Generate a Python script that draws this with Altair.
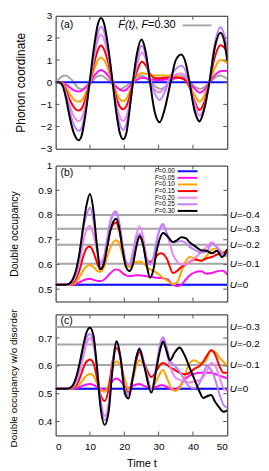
import altair as alt
import pandas as pd

FONT = "Liberation Sans"
W = 173
H_A, H_B, H_C = 134, 137, 122
X_DOMAIN = [0, 50]
YA_DOMAIN = [-3, 3]
YB_DOMAIN = [0.45, 1.0]
YC_DOMAIN = [0.35, 0.785]

X_TICKS = [0, 10, 20, 30, 40, 50]
YA_TICKS = [-3, -2, -1, 0, 1, 2, 3]
YB_TICKS = [0.5, 0.6, 0.7, 0.8, 0.9, 1.0]
YC_TICKS = [0.4, 0.5, 0.6, 0.7]

F_VALUES = ["0.00", "0.05", "0.10", "0.15", "0.20", "0.25", "0.30"]
F_COLORS = ["#1010ff", "#ff10f0", "#ffa500", "#ff0000", "#ee88ee", "#bf80ff", "#000000"]
GRAY = "#a6a6a6"

# ---------------- panel (a): phonon coordinate ----------------
t_gray_a = [0, 1, 2, 2.9, 4, 5.3, 6.5, 7.7, 9, 10.5, 12, 13.3, 14.5, 16, 17.5, 19, 20.3, 22, 23.5, 25,
            26.3, 27.8, 29.3, 30.8, 32, 33.5, 35, 36.5, 37.8, 39.3, 40.8, 42.2, 43.5, 45, 46.5, 48, 49.3, 50]
y_gray_a = [0, 0.15, 0.27, 0.3, 0.2, 0, -0.25, -0.3, -0.2, 0, 0.25, 0.3, 0.2, 0, -0.22, -0.3, -0.2, 0, 0.22, 0.3,
            0.2, 0, -0.22, -0.3, -0.2, 0, 0.22, 0.3, 0.2, 0, -0.22, -0.3, -0.2, 0, 0.22, 0.3, 0.22, 0.15]

t_a = [0, 1, 2, 3, 4, 5, 6, 6.8, 7.6, 8.6, 10, 11.3, 12.3, 13.2, 14.2, 15.3, 16.6, 17.8, 18.8, 19.7, 20.6, 21.6,
       22.6, 23.8, 25.1, 26.3, 27.6, 29, 30.3, 31.8, 33.3, 35, 36.6, 38, 39.2, 40.6, 41.9, 43.3, 44.8, 46.4, 48, 49.2, 50]
y_a_000 = [0] * len(t_a)
y_a_005 = [0, 0, -0.03, -0.1, -0.22, -0.33, -0.4, -0.42, -0.38, -0.25, 0, 0.3, 0.48, 0.55, 0.48, 0.3, 0, -0.22, -0.34,
           -0.38, -0.33, -0.18, 0, 0.12, 0.2, 0.18, 0.12, 0.1, 0.1, 0.12, 0.15, 0.18, 0.2, 0.1, -0.1, -0.3, -0.47,
           -0.35, 0, 0.32, 0.5, 0.52, 0.5]
y_a_010 = [0, 0, -0.05, -0.22, -0.5, -0.72, -0.85, -0.88, -0.82, -0.55, 0, 0.6, 0.98, 1.12, 0.98, 0.6, 0, -0.5, -0.78,
           -0.85, -0.75, -0.4, 0, 0.3, 0.42, 0.38, 0.33, 0.3, 0.3, 0.3, 0.3, 0.28, 0.2, 0.05, -0.2, -0.6, -0.88, -0.6,
           0, 0.65, 1.0, 0.95, 0.85]
y_a_015 = [0, 0, -0.08, -0.35, -0.75, -1.05, -1.24, -1.28, -1.18, -0.8, 0, 0.9, 1.45, 1.66, 1.45, 0.9, 0, -0.75, -1.12,
           -1.22, -1.08, -0.62, 0, 0.55, 0.92, 0.75, 0.35, 0.18, 0.18, 0.2, 0.22, 0.22, 0.18, 0.05, -0.3, -0.9, -1.25,
           -0.9, 0, 1.15, 1.67, 1.55, 1.28]
y_a_020 = [0, 0, -0.1, -0.47, -1.0, -1.45, -1.7, -1.76, -1.62, -1.1, 0, 1.2, 1.9, 2.15, 1.9, 1.2, 0, -1.05, -1.6,
           -1.75, -1.55, -0.9, 0, 0.85, 1.35, 1.0, 0.1, -0.35, -0.45, -0.25, 0.15, 0.35, 0.4, 0.25, -0.2, -1.0, -1.5,
           -1.1, 0, 1.55, 2.25, 1.9, 1.3]
y_a_025 = [0, 0, -0.12, -0.58, -1.25, -1.8, -2.12, -2.2, -2.05, -1.4, 0, 1.4, 2.2, 2.5, 2.25, 1.4, 0, -1.3, -1.95,
           -2.15, -1.9, -1.1, 0, 1.1, 1.65, 1.2, 0.1, -0.55, -0.8, -0.45, 0.2, 0.6, 0.75, 0.45, -0.3, -1.3, -1.74,
           -1.2, 0, 1.75, 2.48, 2.1, 1.45]
t_a_030 = [0, 1, 2, 3, 4, 5, 6, 6.7, 7.5, 8.5, 9.9, 11.2, 12.2, 13.2, 14.2, 15.3, 16.6, 17.8, 18.8, 19.7, 20.6, 21.5,
           22.5, 23.7, 25, 26.2, 27.5, 28.8, 30.3, 31.8, 33.5, 35, 36.6, 38, 39, 40.5, 41.9, 43.3, 44.8, 46.4, 48, 49.2, 50]
y_a_030 = [0, 0, -0.15, -0.7, -1.5, -2.15, -2.53, -2.62, -2.45, -1.65, 0, 1.6, 2.55, 2.9, 2.6, 1.6, 0, -1.5, -2.35,
           -2.57, -2.3, -1.3, 0, 1.3, 1.93, 1.4, 0, -1.3, -1.81, -1.2, 0, 1.0, 1.25, 0.8, 0, -1.3, -1.77, -1.2, 0, 1.6,
           2.23, 1.8, 0.95]

# ---------------- panel (b): double occupancy ----------------
t_b = [0, 3, 4, 5, 6, 7, 8, 9, 10, 11, 12, 13, 14, 15, 16, 17.6, 18.5, 19.5, 20.5, 21.5, 22.5, 23.5, 24.5, 25.5,
       26.5, 27.5, 28.5, 29.5, 30.5, 31.3, 32.5, 34.2, 35.5, 36.6, 38, 39, 40.5, 42.4, 44, 45.5, 47, 48.5, 49.3, 50]
y_b_000 = [0.518] * len(t_b)
y_b_005 = [0.518, 0.518, 0.518, 0.519, 0.522, 0.528, 0.535, 0.54, 0.542, 0.538, 0.534, 0.533, 0.537, 0.55, 0.565,
           0.58, 0.577, 0.565, 0.556, 0.553, 0.554, 0.556, 0.556, 0.554, 0.552, 0.55, 0.548, 0.546, 0.545, 0.544,
           0.54, 0.518, 0.512, 0.518, 0.54, 0.555, 0.568, 0.572, 0.562, 0.565, 0.572, 0.575, 0.57, 0.558]
y_b_010 = [0.518, 0.518, 0.518, 0.52, 0.53, 0.55, 0.575, 0.592, 0.598, 0.59, 0.575, 0.57, 0.585, 0.63, 0.67, 0.698,
           0.685, 0.64, 0.6, 0.59, 0.6, 0.61, 0.612, 0.605, 0.59, 0.58, 0.575, 0.565, 0.555, 0.545, 0.535, 0.52, 0.53,
           0.57, 0.615, 0.63, 0.625, 0.615, 0.635, 0.66, 0.665, 0.65, 0.64, 0.63]
y_b_015 = [0.518, 0.518, 0.519, 0.525, 0.545, 0.58, 0.63, 0.665, 0.673, 0.65, 0.61, 0.58, 0.6, 0.67, 0.74, 0.77,
           0.74, 0.67, 0.61, 0.6, 0.64, 0.69, 0.71, 0.68, 0.62, 0.61, 0.62, 0.635, 0.645, 0.643, 0.62, 0.565, 0.575,
           0.59, 0.6, 0.61, 0.62, 0.615, 0.625, 0.63, 0.64, 0.645, 0.65, 0.66]
y_b_020 = [0.518, 0.518, 0.52, 0.53, 0.56, 0.61, 0.69, 0.74, 0.756, 0.72, 0.66, 0.61, 0.63, 0.7, 0.77, 0.81, 0.77,
           0.68, 0.61, 0.6, 0.65, 0.72, 0.755, 0.71, 0.63, 0.6, 0.62, 0.7, 0.745, 0.755, 0.72, 0.64, 0.61, 0.6, 0.6,
           0.61, 0.625, 0.65, 0.67, 0.69, 0.67, 0.645, 0.64, 0.645]
y_b_025 = [0.518, 0.518, 0.52, 0.535, 0.57, 0.64, 0.74, 0.8, 0.83, 0.78, 0.68, 0.6, 0.62, 0.7, 0.78, 0.815, 0.77,
           0.68, 0.61, 0.6, 0.64, 0.7, 0.725, 0.69, 0.62, 0.6, 0.63, 0.7, 0.75, 0.764, 0.72, 0.69, 0.692, 0.695,
           0.685, 0.672, 0.66, 0.648, 0.652, 0.685, 0.67, 0.64, 0.635, 0.645]
y_b_030 = [0.518, 0.518, 0.522, 0.54, 0.58, 0.65, 0.75, 0.84, 0.885, 0.82, 0.68, 0.58, 0.6, 0.67, 0.74, 0.785, 0.75,
           0.66, 0.59, 0.573, 0.6, 0.67, 0.715, 0.68, 0.6, 0.546, 0.58, 0.66, 0.71, 0.727, 0.715, 0.69, 0.70, 0.71,
           0.705, 0.69, 0.675, 0.657, 0.655, 0.645, 0.655, 0.63, 0.64, 0.662]

# ---------------- panel (c): double occupancy w/o disorder ----------------
t_c = [0, 3, 4, 5, 6, 7, 8, 9, 10, 11, 12, 13, 14.3, 15.5, 16.5, 17.8, 19, 20.2, 21.2, 22.5, 23.5, 24.4, 25.8,
       27.9, 29.5, 30.5, 31.3, 32.3, 33.3, 34.8, 36.1, 37.5, 39, 40.5, 42, 43, 44, 45.3, 46.5, 47.7, 48.9, 50]
y_c_000 = [0.518] * len(t_c)
y_c_005 = [0.518, 0.518, 0.518, 0.518, 0.52, 0.524, 0.529, 0.533, 0.535, 0.532, 0.525, 0.518, 0.515, 0.525, 0.545,
           0.555, 0.545, 0.525, 0.52, 0.528, 0.533, 0.535, 0.528, 0.52, 0.525, 0.53, 0.53, 0.525, 0.518, 0.515, 0.525,
           0.55, 0.565, 0.572, 0.575, 0.575, 0.575, 0.575, 0.57, 0.565, 0.56, 0.555]
y_c_010 = [0.518, 0.518, 0.518, 0.519, 0.525, 0.535, 0.55, 0.565, 0.572, 0.565, 0.54, 0.515, 0.507, 0.535, 0.585,
           0.616, 0.6, 0.55, 0.516, 0.55, 0.6, 0.62, 0.6, 0.52, 0.55, 0.575, 0.585, 0.56, 0.53, 0.51, 0.52, 0.56, 0.61,
           0.62, 0.61, 0.61, 0.625, 0.655, 0.65, 0.63, 0.615, 0.6]
y_c_015 = [0.518, 0.518, 0.518, 0.52, 0.53, 0.555, 0.59, 0.615, 0.623, 0.61, 0.56, 0.5, 0.474, 0.52, 0.61, 0.664,
           0.62, 0.52, 0.505, 0.56, 0.62, 0.65, 0.61, 0.56, 0.585, 0.605, 0.61, 0.605, 0.595, 0.585, 0.575, 0.57,
           0.575, 0.59, 0.6, 0.615, 0.635, 0.656, 0.64, 0.6, 0.575, 0.575]
y_c_020 = [0.518, 0.518, 0.519, 0.523, 0.54, 0.58, 0.63, 0.68, 0.70, 0.675, 0.6, 0.49, 0.42, 0.47, 0.59, 0.688, 0.62,
           0.515, 0.5, 0.56, 0.63, 0.66, 0.61, 0.515, 0.61, 0.68, 0.70, 0.65, 0.6, 0.56, 0.55, 0.545, 0.54, 0.545,
           0.55, 0.56, 0.58, 0.61, 0.6, 0.56, 0.52, 0.51]
y_c_025 = [0.518, 0.518, 0.519, 0.525, 0.55, 0.6, 0.65, 0.7, 0.715, 0.69, 0.6, 0.48, 0.405, 0.46, 0.59, 0.69, 0.62,
           0.51, 0.495, 0.56, 0.63, 0.664, 0.61, 0.516, 0.61, 0.68, 0.703, 0.67, 0.62, 0.6, 0.58, 0.55, 0.525, 0.52,
           0.54, 0.57, 0.6, 0.585, 0.55, 0.5, 0.46, 0.45]
y_c_030 = [0.518, 0.518, 0.52, 0.53, 0.56, 0.61, 0.67, 0.72, 0.737, 0.71, 0.6, 0.46, 0.388, 0.44, 0.58, 0.688, 0.62,
           0.5, 0.483, 0.56, 0.63, 0.661, 0.6, 0.504, 0.6, 0.66, 0.688, 0.655, 0.62, 0.65, 0.666, 0.64, 0.595, 0.55,
           0.505, 0.485, 0.49, 0.495, 0.47, 0.45, 0.435, 0.44]

# horizontal reference levels (equilibrium double occupancy for given U)
U_NAMES_B = ["-0.4", "-0.3", "-0.2", "-0.1", "0"]
U_LEVELS_B = [0.80, 0.744, 0.68, 0.603, 0.518]
U_NAMES_C = ["-0.3", "-0.2", "-0.1", "0"]
U_LEVELS_C = [0.740, 0.677, 0.603, 0.518]

# approximate Arial/Liberation Sans advance widths (em) for positioning mixed-style text
CW = {"F": .611, "(": .333, ")": .333, "t": .278, ",": .278, " ": .278, "=": .584, "0": .556, "3": .556,
      ".": .278, "U": .722}


def text_w(s, size):
    return sum(CW.get(c, .556) for c in s) * size


def xenc(axis):
    return alt.X("t:Q", scale=alt.Scale(domain=X_DOMAIN, nice=False, zero=False), axis=axis)


def yenc(domain, axis):
    return alt.Y("y:Q", scale=alt.Scale(domain=domain, nice=False, zero=False), axis=axis)


def yaxis(title, ticks, title_x, title_size, title_y=None):
    kw = dict(title=title, values=ticks, labelPadding=4, titleX=title_x, titleFontSize=title_size, format="~g")
    if title_y is not None:
        kw["titleY"] = title_y
    return alt.Axis(**kw)


def tick_layers(H, X, Y, yticks):
    xt = pd.DataFrame({"t": X_TICKS[1:-1]})
    yt = pd.DataFrame({"y": yticks})
    col = "#555555"
    return [
        alt.Chart(xt).mark_rule(color=col).encode(x=X, y=alt.value(0), y2=alt.value(4)),
        alt.Chart(xt).mark_rule(color=col).encode(x=X, y=alt.value(H), y2=alt.value(H - 4)),
        alt.Chart(yt).mark_rule(color=col).encode(y=Y, x=alt.value(0), x2=alt.value(4)),
        alt.Chart(yt).mark_rule(color=col).encode(y=Y, x=alt.value(W - 4), x2=alt.value(W)),
    ]


def line(t, y, color, X, Y):
    return alt.Chart(pd.DataFrame({"t": t, "y": y})).mark_line(
        color=color, strokeWidth=2, interpolate="monotone", clip=True).encode(x=X, y=Y)


def tag(label, ypix):
    return alt.Chart(pd.DataFrame({"s": [label]})).mark_text(
        align="left", baseline="middle", font=FONT, fontSize=10.5, color="black").encode(
        x=alt.value(5), y=alt.value(ypix), text="s:N")


U_FS = 10
U_GAP = 2.5


def u_layers(names, levels, Y):
    df = pd.DataFrame({"y": levels, "u": ["U"] * len(names), "rest": ["=" + n for n in names]})
    return [
        alt.Chart(df).mark_rule(color=GRAY, strokeWidth=2).encode(y=Y),
        alt.Chart(df).mark_text(align="left", baseline="middle", font=FONT, fontSize=U_FS, fontStyle="italic",
                                color="black").encode(x=alt.value(W + U_GAP), y=Y, text="u:N"),
        alt.Chart(df).mark_text(align="left", baseline="middle", font=FONT, fontSize=U_FS,
                                color="black").encode(x=alt.value(W + U_GAP + text_w("U", U_FS)), y=Y,
                                                      text="rest:N"),
    ]


# ---------------- build panel (a) ----------------
Xa = xenc(None)
Ya = yenc(YA_DOMAIN, yaxis("Phonon coordinate", YA_TICKS, -28, 12))
ys_a = [y_a_000, y_a_005, y_a_010, y_a_015, y_a_020, y_a_025]
layers_a = [line(t_gray_a, y_gray_a, GRAY, Xa, Ya)]
for ys, c in zip(ys_a, F_COLORS[:6]):
    layers_a.append(line(t_a, ys, c, Xa, Ya))
layers_a.append(line(t_a_030, y_a_030, F_COLORS[6], Xa, Ya))
layers_a += tick_layers(H_A, Xa, Ya, YA_TICKS[1:-1])
layers_a.append(tag("(a)", 9.5))

# legend of panel (a): "F(t), F=0.30" with gray sample
fs_a = 11
pieces = [("F(t)", "italic"), (", ", "normal"), ("F", "italic"), ("=" + F_VALUES[-1], "normal")]
total = sum(text_w(p, fs_a) for p, _ in pieces)
x0 = 121 - total
for p, style in pieces:
    layers_a.append(alt.Chart(pd.DataFrame({"s": [p]})).mark_text(
        align="left", baseline="middle", font=FONT, fontSize=fs_a, fontStyle=style, color="black").encode(
        x=alt.value(x0), y=alt.value(9.7), text="s:N"))
    x0 += text_w(p, fs_a)
layers_a.append(alt.Chart(pd.DataFrame({"s": ["F(t)"]})).mark_rule(color=GRAY, strokeWidth=2).encode(
    x=alt.value(128), x2=alt.value(157), y=alt.value(9.7)))

panel_a = alt.layer(*layers_a).properties(width=W, height=H_A)

# ---------------- build panel (b) ----------------
Xb = xenc(None)
Yb = yenc(YB_DOMAIN, yaxis("Double occupancy", YB_TICKS, -36.5, 10.5))
layers_b = u_layers(U_NAMES_B, U_LEVELS_B, Yb)
for ys, c in zip([y_b_000, y_b_005, y_b_010, y_b_015, y_b_020, y_b_025, y_b_030], F_COLORS):
    layers_b.append(line(t_b, ys, c, Xb, Yb))
layers_b += tick_layers(H_B, Xb, Yb, YB_TICKS[:-1])
layers_b.append(tag("(b)", 8))
main_b = alt.layer(*layers_b)

leg_df = pd.DataFrame({"row": list(range(len(F_VALUES))), "val": ["=" + v for v in F_VALUES],
                       "F": ["F"] * len(F_VALUES), "col": F_COLORS})
Yrow = alt.Y("row:Q", scale=alt.Scale(domain=[0, len(F_VALUES) - 1], range=[5.7, 45.7]), axis=None)
fs_l = 6.5
legend_b = alt.layer(
    alt.Chart(leg_df).mark_rule(strokeWidth=2).encode(
        y=Yrow, x=alt.value(123), x2=alt.value(143), color=alt.Color("col:N", scale=None)),
    alt.Chart(leg_df).mark_text(align="right", baseline="middle", font=FONT, fontSize=fs_l, fontStyle="italic",
                                color="black").encode(y=Yrow, x=alt.value(103.8), text="F:N"),
    alt.Chart(leg_df).mark_text(align="left", baseline="middle", font=FONT, fontSize=fs_l,
                                color="black").encode(y=Yrow, x=alt.value(103.8), text="val:N"),
)
panel_b = alt.layer(main_b, legend_b).resolve_scale(y="independent").properties(width=W, height=H_B)

# ---------------- build panel (c) ----------------
Xc = xenc(alt.Axis(title="Time t", values=X_TICKS, labelPadding=6, titlePadding=6, titleFontSize=11,
                   format="d"))
Yc = yenc(YC_DOMAIN, yaxis("Double occupancy w/o disorder", YC_TICKS, -37, 10, title_y=64))
layers_c = u_layers(U_NAMES_C, U_LEVELS_C, Yc)
for ys, c in zip([y_c_000, y_c_005, y_c_010, y_c_015, y_c_020, y_c_025, y_c_030], F_COLORS):
    layers_c.append(line(t_c, ys, c, Xc, Yc))
layers_c += tick_layers(H_C, Xc, Yc, YC_TICKS)
layers_c.append(tag("(c)", 7))
panel_c = alt.layer(*layers_c).properties(width=W, height=H_C)

chart = alt.vconcat(panel_a, panel_b, panel_c, spacing=5).properties(
    padding=0
).configure(background="white").configure_view(stroke="#222222", strokeWidth=1).configure_axis(
    grid=False, domain=False, ticks=False, tickSize=0, labelFont=FONT, titleFont=FONT, labelFontSize=10,
    labelColor="black", titleColor="black", titleFontWeight="normal"
)

chart.save("out.html", embed_options={"renderer": "svg", "actions": False})
